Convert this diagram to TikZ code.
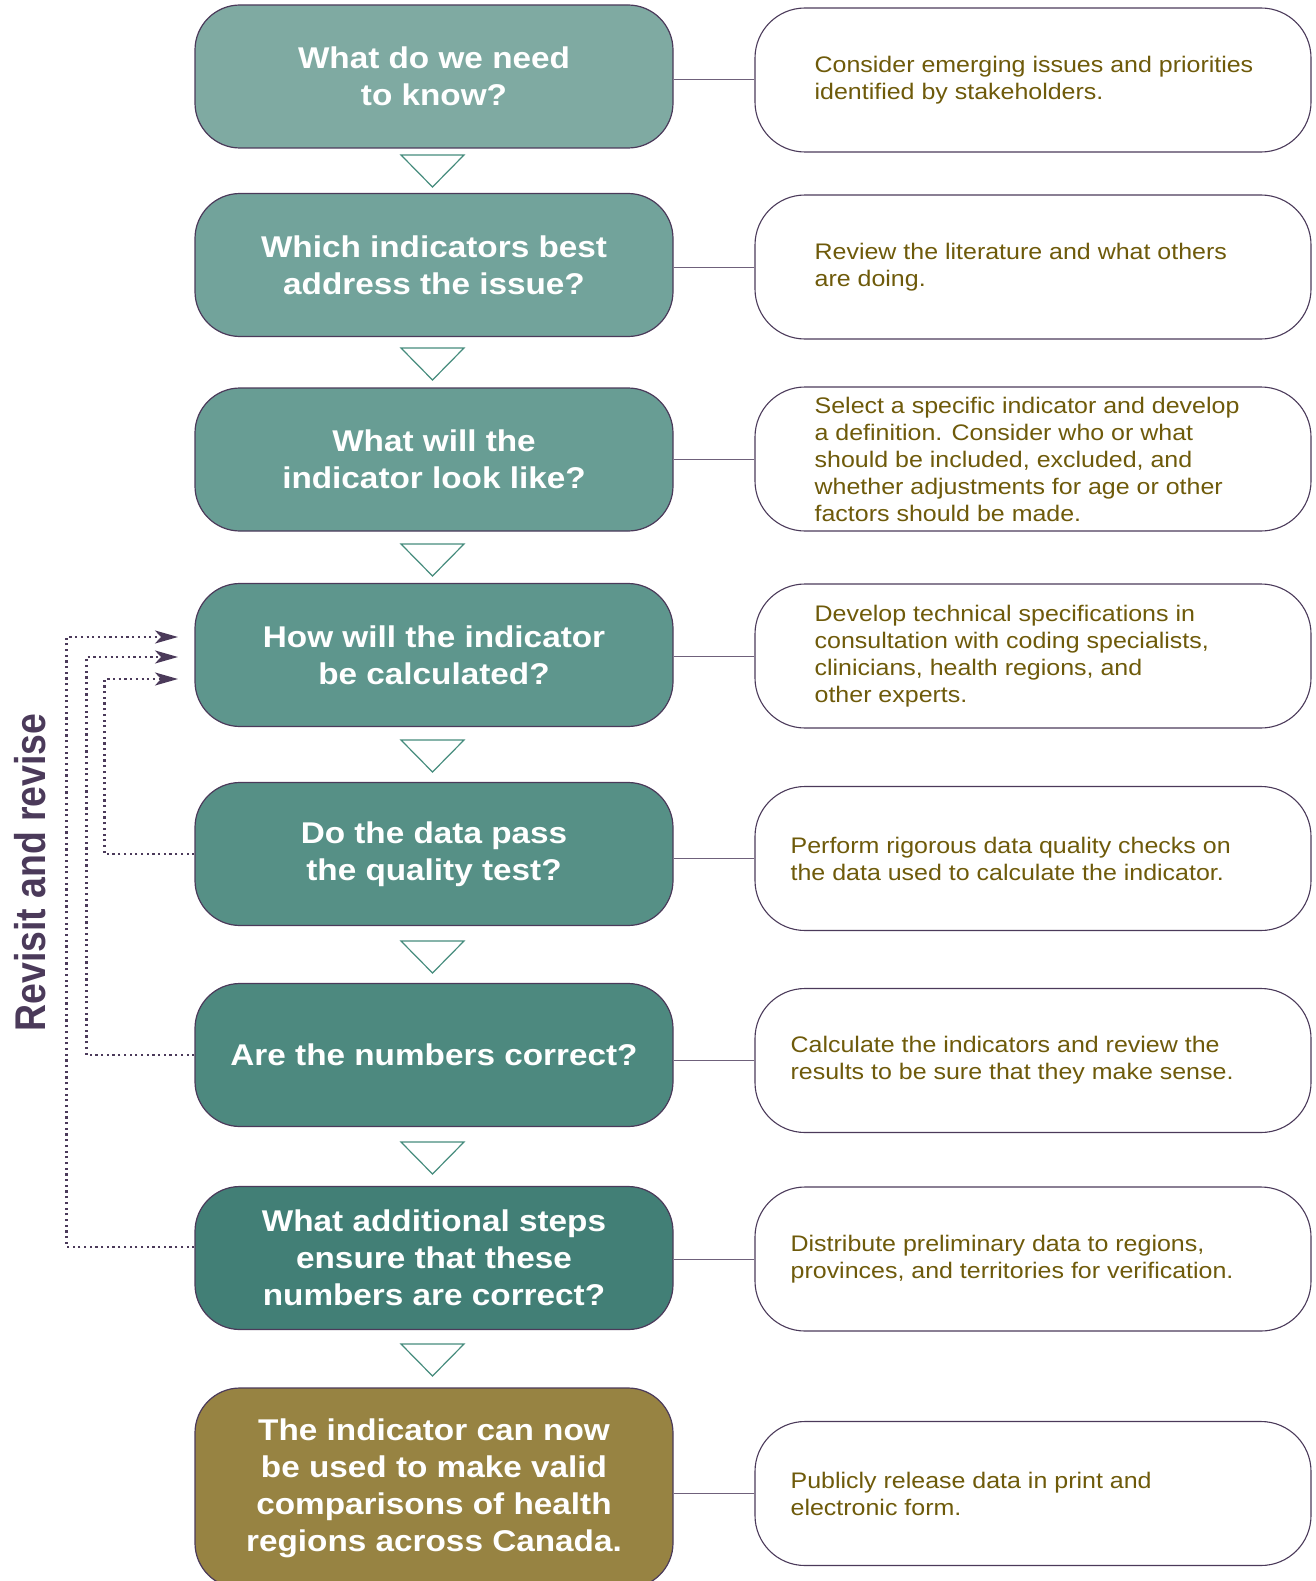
\documentclass[tikz,border=0pt]{standalone}
\usepackage{fontspec}
\usepackage{graphicx}
\setmainfont{Liberation Sans}
\newfontfamily\stepfont[FakeStretch=1.11]{Liberation Sans}
\newfontfamily\revisefont[FakeStretch=0.87]{Liberation Sans}
\usetikzlibrary{positioning,arrows.meta}
\definecolor{edgepurple}{RGB}{75,58,90}
\definecolor{notebrown}{RGB}{110,90,10}
\definecolor{tealA}{RGB}{127,170,162}
\definecolor{tealB}{RGB}{114,163,155}
\definecolor{tealC}{RGB}{104,157,148}
\definecolor{tealD}{RGB}{94,150,141}
\definecolor{tealE}{RGB}{86,144,134}
\definecolor{tealF}{RGB}{77,137,127}
\definecolor{tealG}{RGB}{66,127,118}
\definecolor{olivebox}{RGB}{151,131,66}
\definecolor{downteal}{RGB}{70,140,125}
\begin{document}
\begin{tikzpicture}[x=1pt,y=-1pt,
    question/.style={draw=edgepurple, line width=1.2pt, rounded corners=45pt, minimum width=478pt, minimum height=143pt, text=white, align=center, font=\stepfont\bfseries\fontsize{30}{37}\selectfont},
    answer/.style={draw=edgepurple, line width=1.1pt, rounded corners=50pt, minimum width=556pt, minimum height=144pt},
    note/.style={text=notebrown, align=left, inner sep=0pt, font=\stepfont\fontsize{22.5}{27}\selectfont},
    link/.style={draw=edgepurple!80, line width=1pt},
    down/.style={draw=downteal, line width=1.2pt, fill=white},
    revise/.style={draw=edgepurple, line width=2.2pt, dash pattern=on 2.2pt off 3.5pt, -{Stealth[length=23pt,width=13pt,inset=6pt]}}]
        \useasboundingbox (0,0) rectangle (1315,1581);
        \clip (0,0) rectangle (1315,1581);

        \node[question, fill=tealA] (q1) at (434,76.5) {What do we need\\to know?};
        \node[question, fill=tealB] (q2) at (434,265) {Which indicators best\\address the issue?};
        \node[question, fill=tealC] (q3) at (434,459.5) {What will the\\indicator look like?};
        \node[question, fill=tealD] (q4) at (434,655) {How will the indicator\\be calculated?};
        \node[question, fill=tealE] (q5) at (434,854) {Do the data pass\\the quality test?};
        \node[question, fill=tealF] (q6) at (434,1055) {Are the numbers correct?};
        \node[question, fill=tealG] (q7) at (434,1258) {What additional steps\\ensure that these\\numbers are correct?};
        \node[question, fill=olivebox, minimum height=200pt] (q8) at (434,1488) {The indicator can now\\be used to make valid\\comparisons of health\\regions across Canada.};

        \node[answer] (a1) at (1033,80) {};
        \node[answer] (a2) at (1033,267) {};
        \node[answer] (a3) at (1033,459) {};
        \node[answer] (a4) at (1033,656) {};
        \node[answer] (a5) at (1033,858.5) {};
        \node[answer] (a6) at (1033,1060.5) {};
        \node[answer] (a7) at (1033,1259) {};
        \node[answer] (a8) at (1033,1493.5) {};

        \node[note, right=60pt of a1.west] (n1) {Consider emerging issues and priorities\\identified by stakeholders.};
        \node[note, right=60pt of a2.west] (n2) {Review the literature and what others\\are doing.};
        \node[note, right=60pt of a3.west] (n3) {Select a specific indicator and develop\\a definition. Consider who or what\\should be included, excluded, and\\whether adjustments for age or other\\factors should be made.};
        \node[note, right=60pt of a4.west] (n4) {Develop technical specifications in\\consultation with coding specialists,\\clinicians, health regions, and\\other experts.};
        \node[note, right=36pt of a5.west] (n5) {Perform rigorous data quality checks on\\the data used to calculate the indicator.};
        \node[note, right=36pt of a6.west] (n6) {Calculate the indicators and review the\\results to be sure that they make sense.};
        \node[note, right=36pt of a7.west] (n7) {Distribute preliminary data to regions,\\provinces, and territories for verification.};
        \node[note, right=36pt of a8.west] (n8) {Publicly release data in print and\\electronic form.};

        \foreach \k in {1,...,8}
            \draw[link] (a\k.west) -- (a\k.west -| q\k.east);

        \foreach \y in {155,348,544,740,941,1142,1344}
            \draw[down] (401,\y) -- ++(63,0) -- ++(-31.5,32) -- cycle;

        \coordinate (in5) at (178,679);
        \coordinate (in6) at (178,657);
        \coordinate (in7) at (178,637);
        \draw[revise] (q5.west) -- ++(-90,0) |- (in5);
        \draw[revise] (q6.west) -- ++(-108,0) |- (in6);
        \draw[revise] ([yshift=11pt]q7.west) -- ++(-128,0) |- (in7);

        \node[rotate=90, text=edgepurple, font=\revisefont\bfseries\fontsize{43}{43}\selectfont] (revlabel) at (30,872.5) {Revisit and revise};
\end{tikzpicture}
\end{document}
